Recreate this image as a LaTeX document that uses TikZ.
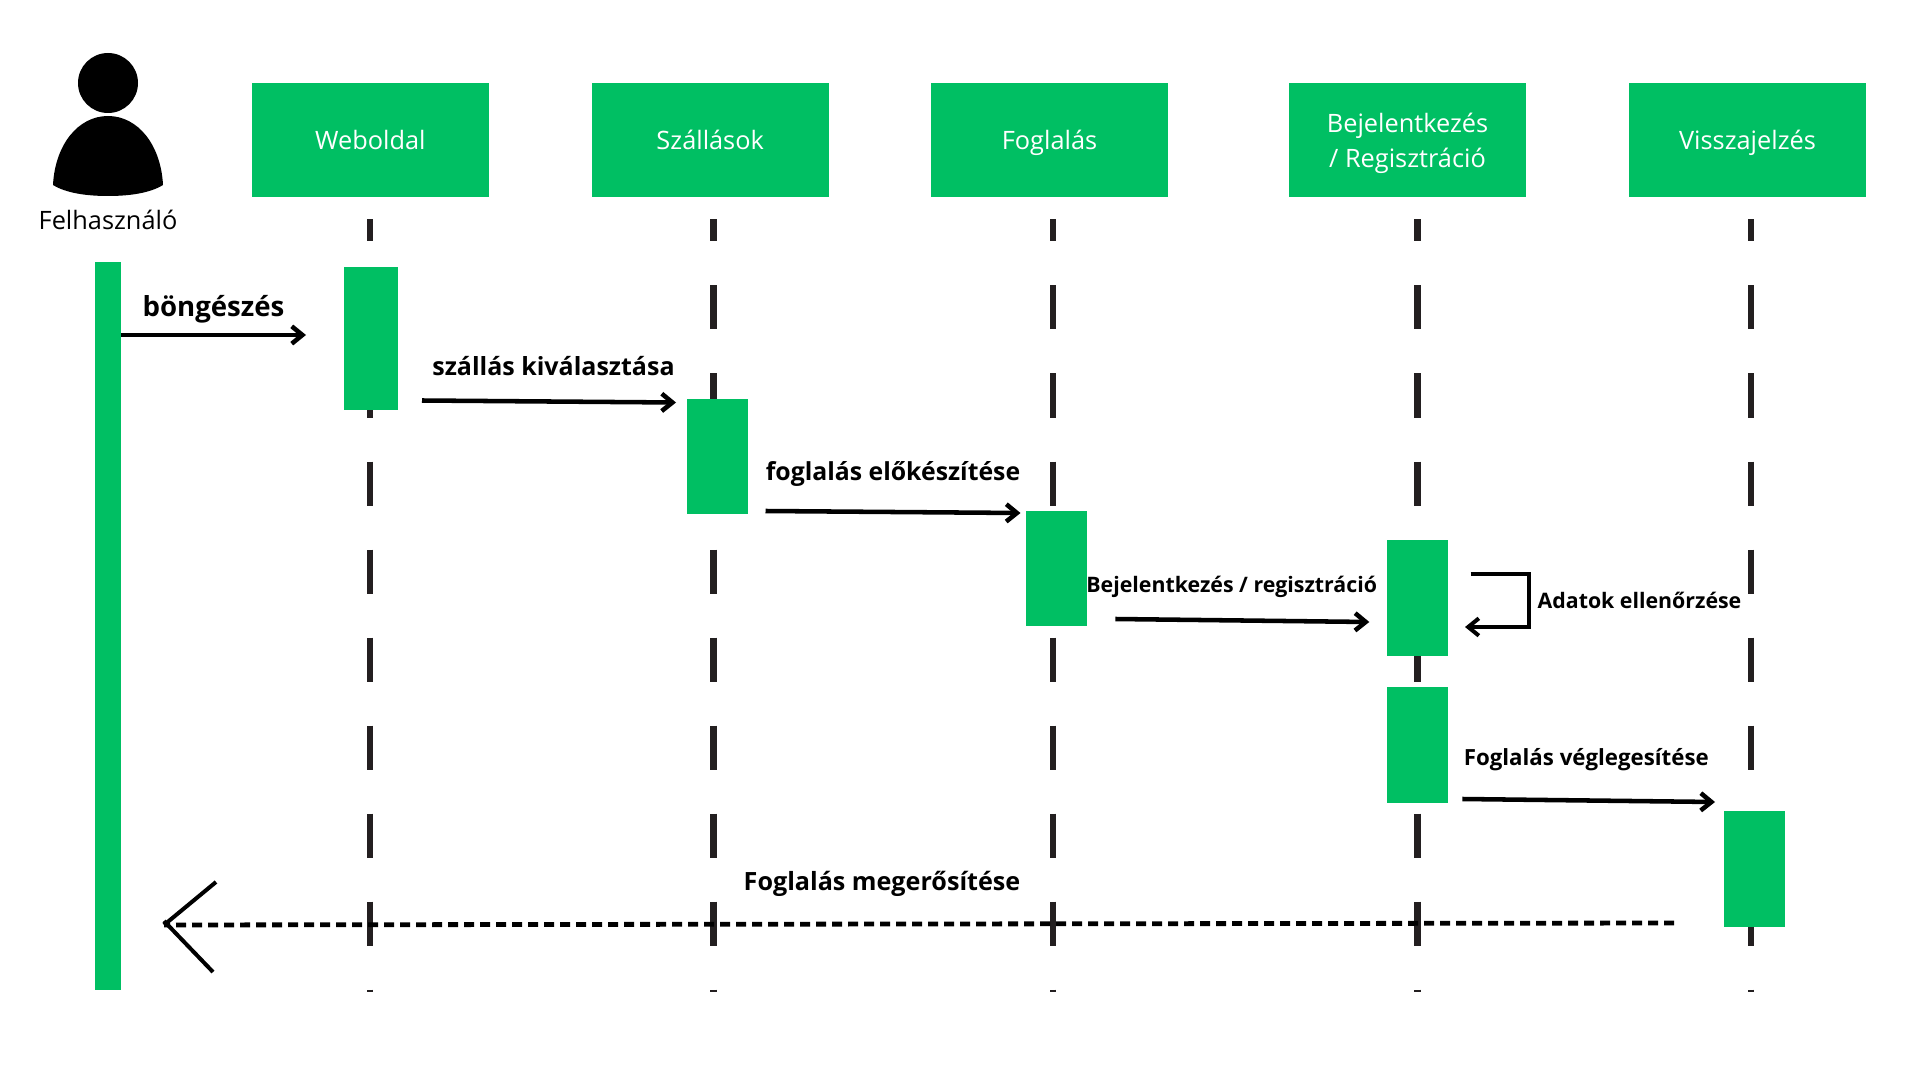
\documentclass[tikz,border=0pt]{standalone}
\usepackage{fontspec}
\setmainfont{Open Sans}
\usepackage{xcolor}
\usetikzlibrary{arrows.meta,positioning}
\definecolor{zold}{rgb}{0, 0.749, 0.388}
\definecolor{eletvonal}{rgb}{0.137, 0.122, 0.125}

\tikzset{
	fejlec/.style={fill=zold,text=white,minimum width=177.75pt,minimum height=85.5pt,inner sep=0pt,align=center,font=\fontsize{19}{26}\selectfont},
	egysor/.style={text height=19.4pt,text depth=5pt},
	aktiv/.style 2 args={fill=zold,minimum width=#1*0.75pt,minimum height=#2*0.75pt,inner sep=0pt},
	uzenet/.style={line width=3.4pt,-{Straight Barb[length=8pt,width=13pt]}},
	felirat/.style={inner sep=0pt,font=\bfseries\fontsize{#1}{#1}\selectfont},
	eletut/.style={eletvonal,line width=5.2pt,dash pattern=on 33pt off 33pt,dash phase=16.5pt},
}

\begin{document}
\begin{tikzpicture}[x=0.75pt,y=-0.75pt]
	\useasboundingbox (0,0) rectangle (1920,1080);

	% Lifelines, behind everything else.
	\foreach \nev/\x in {web/370,szall/713.3,fogl/1053,bej/1417.5,vissza/1751}{
		\coordinate (\nev top) at (\x,219.5);
		\coordinate (\nev end) at (\x,992);
		\draw [eletut] (\nev top) -- (\nev end);
	}

	% The user on the left.
	\fill (108,83) circle (30);
	\fill (53,185) .. controls (55,145) and (78,116) .. (108,116)
		.. controls (138,116) and (161,145) .. (163,185)
		.. controls (150,193) and (130,196) .. (108,196)
		.. controls (86,196) and (66,193) .. (53,185) -- cycle;
	\node (felh) at (108,220) [inner sep=0pt,font=\fontsize{19}{26}\selectfont] {Felhasználó};

	% Header boxes.
	\node (webbox) at (370.4,140) [fejlec,egysor] {Weboldal};
	\node (szallbox) at (710.2,140) [fejlec,egysor] {Szállások};
	\node (foglbox) at (1049.5,140) [fejlec,egysor] {Foglalás};
	\node (bejbox) at (1407.5,140) [fejlec,text height=45.6pt] {Bejelentkezés\\/ Regisztráció};
	\node (visszabox) at (1747.5,140) [fejlec,egysor] {Visszajelzés};

	% Activation bars.
	\node (felhbar) at (108,626) [aktiv={26}{728}] {};
	\node (webbar) at (371,338.5) [aktiv={54}{143}] {};
	\node (szallbar) at (717.5,456.5) [aktiv={61}{115}] {};
	\node (foglbar) at (1056.3,568) [aktiv={61}{115}] {};
	\node (bejbar) at (1417.3,598) [aktiv={61}{116}] {};
	\node (bejbarb) at (1417.3,745) [aktiv={61}{116}] {};
	\node (visszabar) at (1754,869) [aktiv={61}{116}] {};

	% Messages.
	\coordinate (bongvege) at (306,335);
	\draw [uzenet] (felhbar.east |- bongvege) -- (bongvege);
	\node (bong) at (213.5,309.5) [felirat=20.7] {böngészés};

	\coordinate (szalla) at (422,400.5);
	\coordinate (szallb) at (676,402.5);
	\draw [uzenet] (szalla) -- (szallb);
	\node (szalll) at (553.5,366) [felirat=18.75] {szállás kiválasztása};

	\coordinate (fogla) at (765.5,511);
	\coordinate (foglb) at (1020.5,513);
	\draw [uzenet] (fogla) -- (foglb);
	\node (fogll) at (893,474) [felirat=18.6] {foglalás előkészítése};

	\coordinate (beja) at (1115.3,619);
	\coordinate (bejb) at (1369.3,622);
	\draw [uzenet] (beja) -- (bejb);
	\node (bejl) at (1231.7,587) [felirat=16] {Bejelentkezés / regisztráció};

	% Self message of the login box.
	\coordinate (ona) at (1470.5,574);
	\coordinate (onb) at (1529,574);
	\coordinate (onc) at (1529,627);
	\coordinate (ond) at (1465,627);
	\draw [line width=3pt,-{Straight Barb[length=8pt,width=13pt]}] (ona) -- (onb) -- (onc) -- (ond);
	\node (onl) at (1639.5,600) [felirat=16] {Adatok ellenőrzése};

	\coordinate (vega) at (1462.3,799);
	\coordinate (vegb) at (1715,802);
	\draw [uzenet] (vega) -- (vegb);
	\node (vegl) at (1586.3,759.5) [felirat=16.7] {Foglalás véglegesítése};

	% The dashed answer, its big head is two separate strokes.
	\coordinate (mega) at (1674,923);
	\coordinate (megb) at (164,925);
	\coordinate (megf) at (216,882);
	\coordinate (megl2) at (213,972);
	\draw [line width=3.6pt,dash pattern=on 7.5pt off 4.5pt] (mega) -- (megb);
	\draw [line width=3pt] (megf) -- (megb);
	\draw [line width=3pt] (megl2) -- ([yshift=3pt]megb);
	\node (megl) at (882,884) [felirat=18.85] {Foglalás megerősítése};
\end{tikzpicture}
\end{document}
